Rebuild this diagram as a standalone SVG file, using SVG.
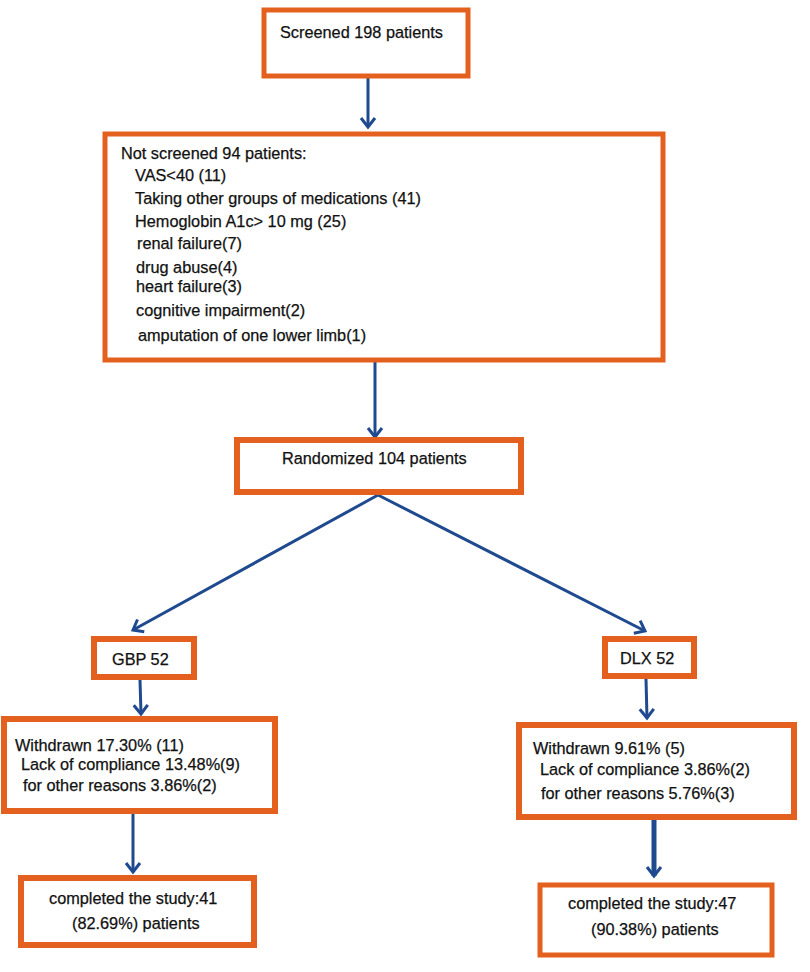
<svg xmlns="http://www.w3.org/2000/svg" width="810" height="972" viewBox="0 0 810 972">
<defs>
<style>
.box{fill:#fff;stroke:#E4601E;stroke-width:5}
.t{font-family:"Liberation Sans",Arial,sans-serif;font-size:16.3px;fill:#111;stroke:#111;stroke-width:0.25}
.c{fill:none;stroke:#1F4A8F;stroke-width:3}
</style>
<marker id="ah" markerUnits="userSpaceOnUse" markerWidth="24" markerHeight="24" refX="12" refY="12" orient="auto" viewBox="0 0 24 24">
<path d="M3,5 L12,12 L3,19" fill="none" stroke="#1F4A8F" stroke-width="3"/>
</marker>
</defs>
<rect width="810" height="972" fill="#fff"/>
<g id="connectors">
<line class="c" x1="368" y1="78" x2="368" y2="127" marker-end="url(#ah)"/>
<line class="c" x1="375" y1="362" x2="375" y2="437" marker-end="url(#ah)"/>
<line class="c" x1="378" y1="495" x2="133" y2="630" marker-end="url(#ah)"/>
<line class="c" x1="378" y1="495" x2="645" y2="631" marker-end="url(#ah)"/>
<line class="c" x1="140" y1="680" x2="141" y2="714" marker-end="url(#ah)"/>
<line class="c" x1="646" y1="679" x2="647" y2="718" marker-end="url(#ah)"/>
<line class="c" x1="133" y1="814" x2="133" y2="872" marker-end="url(#ah)"/>
<line class="c" x1="654" y1="820" x2="654" y2="876" style="stroke-width:5" marker-end="url(#ah)"/>
</g>
<g id="screened">
<rect class="box" x="264" y="10" width="204" height="66"/>
<text class="t" x="280" y="38">Screened 198 patients</text>
</g>
<g id="not-screened">
<rect class="box" x="105" y="134" width="558" height="226"/>
<text class="t" x="121" y="159">Not screened 94 patients:</text>
<text class="t" x="135" y="181">VAS&lt;40 (11)</text>
<text class="t" x="135" y="204">Taking other groups of medications (41)</text>
<text class="t" x="135" y="227">Hemoglobin A1c&gt; 10 mg (25)</text>
<text class="t" x="137" y="249">renal failure(7)</text>
<text class="t" x="136" y="273">drug abuse(4)</text>
<text class="t" x="136" y="292">heart failure(3)</text>
<text class="t" x="136" y="316">cognitive impairment(2)</text>
<text class="t" x="138" y="341">amputation of one lower limb(1)</text>
</g>
<g id="randomized">
<rect class="box" x="237" y="440" width="284" height="52" style="stroke-width:6"/>
<text class="t" x="282" y="464">Randomized 104 patients</text>
</g>
<g id="gbp">
<rect class="box" x="94" y="639" width="100" height="38" style="stroke-width:6"/>
<text class="t" x="112" y="665">GBP 52</text>
</g>
<g id="dlx">
<rect class="box" x="605" y="639" width="89" height="37" style="stroke-width:6"/>
<text class="t" x="620" y="664">DLX 52</text>
</g>
<g id="withdrawn-gbp">
<rect class="box" x="4" y="719" width="271" height="92" style="stroke-width:6"/>
<text class="t" x="15" y="751">Withdrawn 17.30% (11)</text>
<text class="t" x="21" y="770">Lack of compliance 13.48%(9)</text>
<text class="t" x="23" y="791">for other reasons 3.86%(2)</text>
</g>
<g id="withdrawn-dlx">
<rect class="box" x="519" y="725" width="275" height="92" style="stroke-width:6"/>
<text class="t" x="533" y="754">Withdrawn 9.61% (5)</text>
<text class="t" x="540" y="775">Lack of compliance 3.86%(2)</text>
<text class="t" x="541" y="799">for other reasons 5.76%(3)</text>
</g>
<g id="completed-gbp">
<rect class="box" x="21" y="878" width="233" height="67" style="stroke-width:6"/>
<text class="t" x="49" y="904">completed the study:41</text>
<text class="t" x="72" y="929">(82.69%) patients</text>
</g>
<g id="completed-dlx">
<rect class="box" x="540" y="885" width="232" height="70"/>
<text class="t" x="568" y="909">completed the study:47</text>
<text class="t" x="591" y="935">(90.38%) patients</text>
</g>
</svg>
